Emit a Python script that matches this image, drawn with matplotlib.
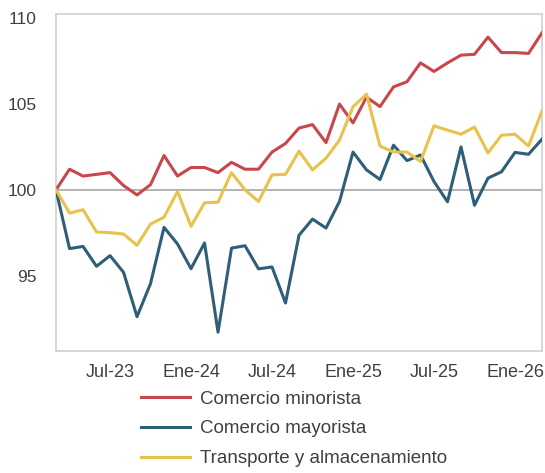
import matplotlib
matplotlib.use("Agg")
import matplotlib.pyplot as plt
import pandas as pd

plt.rcParams['font.family'] = ['Liberation Sans', 'DejaVu Sans']

# Monthly index, Mar-23 = 100
months = pd.date_range("2023-03-01", "2026-03-01", freq="MS")

minorista = [100.0, 101.2, 100.8, 100.9, 101.0, 100.25, 99.7, 100.3, 102.0, 100.8,
             101.3, 101.3, 101.0, 101.6, 101.2, 101.2, 102.2, 102.7, 103.6, 103.8,
             102.75, 105.0, 103.9, 105.4, 104.85, 106.0, 106.3, 107.4, 106.9, 107.4,
             107.85, 107.9, 108.9, 108.0, 108.0, 107.95, 109.15]

mayorista = [100.0, 96.57, 96.7, 95.54, 96.16, 95.19, 92.6, 94.53, 97.81, 96.84,
             95.4, 96.9, 91.7, 96.6, 96.74, 95.39, 95.5, 93.4, 97.35, 98.29,
             97.77, 99.32, 102.2, 101.16, 100.6, 102.6, 101.7, 102.03, 100.48, 99.3,
             102.5, 99.1, 100.68, 101.05, 102.18, 102.07, 102.95]

transporte = [100.0, 98.64, 98.84, 97.54, 97.5, 97.42, 96.76, 98.0, 98.4, 99.9,
              97.87, 99.24, 99.28, 101.0, 100.0, 99.32, 100.87, 100.9, 102.25, 101.16,
              101.84, 102.9, 104.84, 105.58, 102.55, 102.2, 102.2, 101.65, 103.73, 103.48,
              103.24, 103.66, 102.15, 103.18, 103.24, 102.55, 104.6]

series = [("Comercio minorista", minorista, "#C9474B"),
          ("Comercio mayorista", mayorista, "#2E5E78"),
          ("Transporte y almacenamiento", transporte, "#E8C24B")]

tick_idx = [4, 10, 16, 22, 28, 34]
tick_labels = ["Jul-23", "Ene-24", "Jul-24", "Ene-25", "Jul-25", "Ene-26"]
yticks = [95, 100, 105, 110]

fig = plt.figure(figsize=(5.45, 4.73), dpi=100)
ax = fig.add_axes([0.1028, 0.2579, 0.8917, 0.7125])

x = list(range(len(months)))
ax.axhline(100, color="#A6A6A6", lw=1.2, zorder=1)
for name, vals, col in series:
    ax.plot(x, vals, color=col, lw=2.2, label=name, zorder=3)

ax.set_xlim(0, len(months) - 1)
ax.set_ylim(90.6, 110.25)
ax.set_xticks(tick_idx)
ax.set_xticklabels(tick_labels)
ax.set_yticks(yticks)
ax.tick_params(length=0, labelsize=13, colors="#404040", pad=9)
ax.tick_params(axis="y", labelsize=12.5, pad=14)
for sp in ax.spines.values():
    sp.set_color("#D0D0D0")
    sp.set_linewidth(1.2)

ax.legend(loc="upper left", bbox_to_anchor=(132 / 545, 1 - 381 / 473),
          bbox_transform=fig.transFigure, frameon=False, fontsize=13.5,
          handlelength=2.6, handletextpad=0.55, labelspacing=0.68,
          borderpad=0, labelcolor="#404040")

fig.savefig("out.png", dpi=100)
